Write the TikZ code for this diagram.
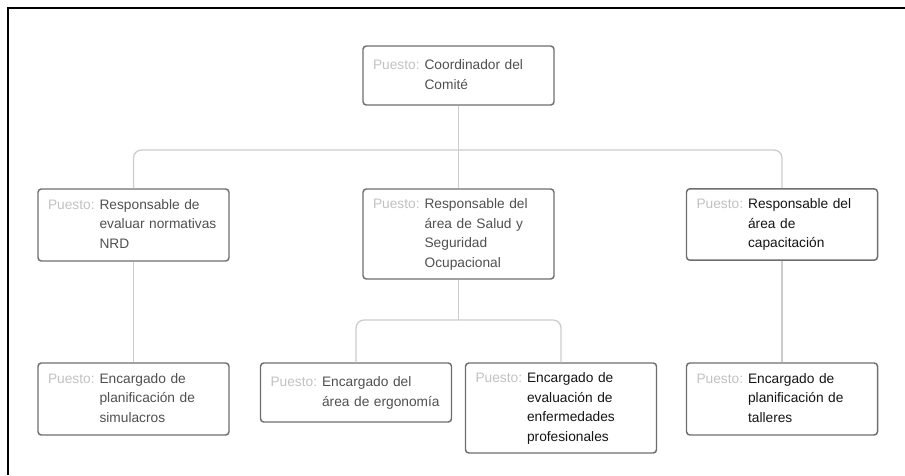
\documentclass[tikz,border=0pt]{standalone}
\usepackage{fontspec}
\setmainfont{Liberation Sans}
\usepackage{array}
\definecolor{boxline}{HTML}{6E6E6E}
\definecolor{connline}{HTML}{CCCCCC}
\definecolor{puesto}{HTML}{C2C2C2}
\definecolor{bodygray}{HTML}{505050}
\definecolor{bodyblack}{HTML}{151515}
\newcommand{\pbox}[2]{\begin{tabular}{@{}l@{\hspace{3.75pt}}l@{}}\textcolor{puesto}{Puesto:} & #2\end{tabular}}
\tikzset{
  orgbox/.style={draw=boxline, line width=1.1pt, rounded corners=2.5pt, fill=white,
    text width=128.25pt, inner xsep=7.5pt, inner ysep=0pt, align=left,
    font=\fontsize{10.3}{14.6}\selectfont, text=bodygray},
  dark/.style={text=bodyblack},
  conn/.style={draw=connline, line width=1pt, rounded corners=6pt},
  frameline/.style={draw=black, line width=0.8pt}
}
\begin{document}
\begin{tikzpicture}[x=0.75pt, y=-0.75pt]
\useasboundingbox (0,0) rectangle (905,475);
\draw[frameline] (8,475) -- (8,8) -- (905,8);
% level 0
\node[orgbox, minimum height=44.25pt] (top) at (458.5,75.5) {\pbox{}{Coordinador del\\ & Comité}};
% level 1
\node[orgbox, minimum height=54pt] (l1) at (133.5,225) {\pbox{}{Responsable de\\ & evaluar normativas\\ & NRD}};
\node[orgbox, minimum height=67.5pt] (m1) at (458.5,234) {\pbox{}{Responsable del\\ & área de Salud y\\ & Seguridad\\ & Ocupacional}};
\node[orgbox, dark, minimum height=53.5pt] (r1) at (782,224.5) {\pbox{}{Responsable del\\ & área de\\ & capacitación}};
% level 2
\node[orgbox, minimum height=54pt] (l2) at (133.5,399) {\pbox{}{Encargado de\\ & planificación de\\ & simulacros}};
\node[orgbox, minimum height=44.25pt] (e1) at (356,392.5) {\pbox{}{Encargado del\\ & área de ergonomía}};
\node[orgbox, dark, minimum height=67.5pt] (e2) at (561,408) {\pbox{}{Encargado de\\ & evaluación de\\ & enfermedades\\ & profesionales}};
\node[orgbox, dark, minimum height=54pt] (r2) at (782,399) {\pbox{}{Encargado de\\ & planificación de\\ & talleres}};
% connectors
\coordinate (j0) at (458.5,150);
\coordinate (j1) at (458.5,320);
\draw[conn] (top.south) -- (m1.north);
\draw[conn] (j0) -| (l1.north);
\draw[conn] (j0) -| (r1.north);
\draw[conn] (l1.south) -- (l2.north);
\draw[conn] (r1.south) -- (r2.north);
\draw[conn] (m1.south) -- (j1);
\draw[conn] (j1) -| (e1.north);
\draw[conn] (j1) -| (e2.north);
\end{tikzpicture}
\end{document}
